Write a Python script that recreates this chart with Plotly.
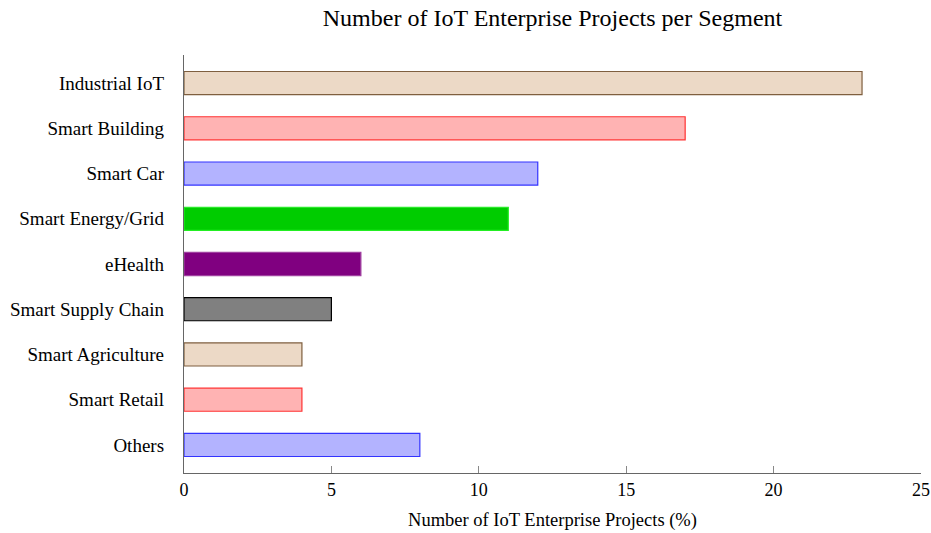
import plotly.graph_objects as go

categories = ["Industrial IoT", "Smart Building", "Smart Car", "Smart Energy/Grid",
              "eHealth", "Smart Supply Chain", "Smart Agriculture", "Smart Retail", "Others"]
values = [23, 17, 12, 11, 6, 5, 4, 4, 8]
x_ticks = [0, 5, 10, 15, 20, 25]

fill_colors = ["#ECD9C6", "#FFB3B3", "#B3B3FF", "#00CC00", "#800080",
               "#808080", "#ECD9C6", "#FFB3B3", "#B3B3FF"]
edge_colors = ["#7F5F3F", "#FF3333", "#3333FF", "#22EE22", "#A040A0",
               "#000000", "#7F5F3F", "#FF3333", "#3333FF"]

FONT = "Liberation Serif"

fig = go.Figure(go.Bar(
    x=values, y=categories, orientation="h",
    marker=dict(color=fill_colors, line=dict(color=edge_colors, width=1.2)),
    width=0.51,
))

fig.update_layout(
    width=931, height=533,
    margin=dict(l=184, r=10, t=55, b=60, autoexpand=False),
    paper_bgcolor="white", plot_bgcolor="white",
    showlegend=False,
    font=dict(family=FONT, color="black", size=18),
    title=dict(text="Number of IoT Enterprise Projects per Segment",
               x=0.5, xanchor="center", y=0.982, yanchor="top",
               xref="paper",
               font=dict(family=FONT, size=24, color="black")),
)
fig.update_xaxes(
    range=[0, 25], tickvals=x_ticks, ticktext=[str(v) for v in x_ticks],
    showline=True, linecolor="#666666", linewidth=1.3,
    ticks="inside", ticklen=7, tickcolor="#888888", tickwidth=1,
    showgrid=False, zeroline=False,
    tickfont=dict(family=FONT, size=18),
    title=dict(text="Number of IoT Enterprise Projects (%)", standoff=14,
               font=dict(family=FONT, size=18.5)),
)
fig.update_yaxes(
    type="category", categoryorder="array", categoryarray=categories,
    range=[8.62, -0.62],
    showline=True, linecolor="#666666", linewidth=1.3,
    ticks="", showgrid=False, zeroline=False,
    tickfont=dict(family=FONT, size=19),
    ticklabelstandoff=15,
)

fig.write_html("out.html", config={"displayModeBar": False},
               post_script="document.body.style.margin='0';")
